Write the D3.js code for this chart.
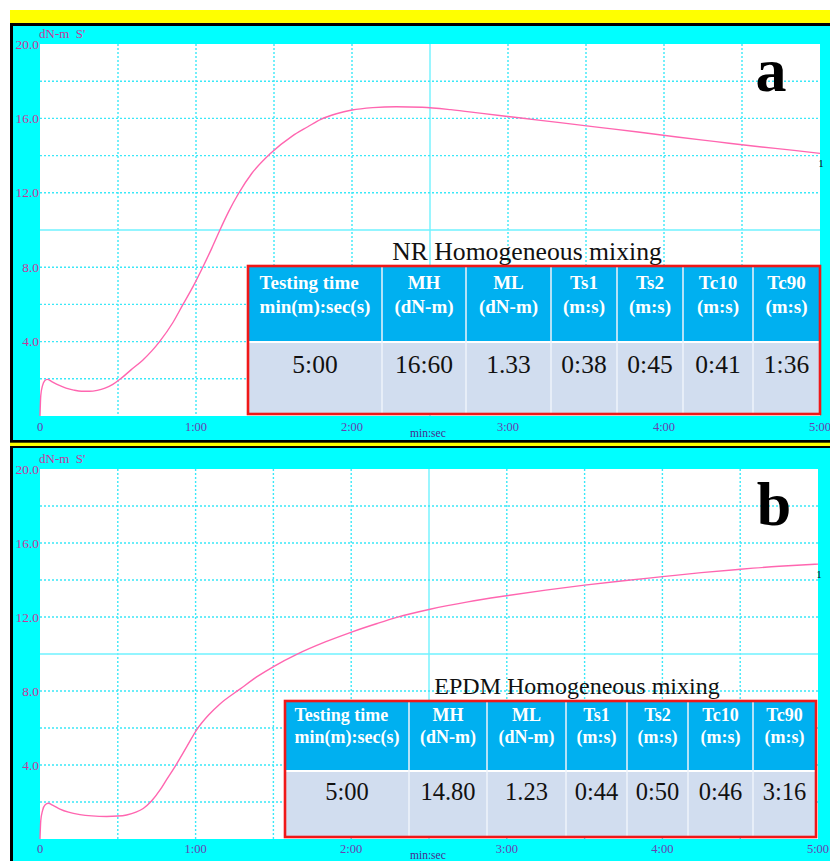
<!DOCTYPE html>
<html><head><meta charset="utf-8">
<script src="https://cdn.jsdelivr.net/npm/d3@7"></script>
<style>html,body{margin:0;padding:0;background:#fff;} svg{display:block;}</style>
</head><body>
<svg id="c" width="830" height="861"></svg>
<script>
// ---------- DATA ----------
const timesA  = [0, 0.3, 1.0, 1.8, 2.8, 4.5, 7, 10, 13, 16, 19, 22, 25, 28, 31, 35, 39.5, 43, 46, 51, 55, 59, 62.6, 66, 69.2, 72.6, 76.3, 81.5, 88.5, 97, 103, 108, 114, 120, 128, 137, 147, 158, 170, 185, 200, 215, 230, 245, 260, 275, 290, 300];
const torqueA = [0, 1.1, 1.65, 1.9, 1.97, 1.85, 1.67, 1.5, 1.39, 1.33, 1.33, 1.38, 1.5, 1.7, 2.0, 2.48, 3.0, 3.5, 4.0, 5.0, 6.0, 7.0, 8.0, 9.0, 10.0, 11.0, 11.95, 13.05, 14.1, 15.05, 15.55, 15.95, 16.25, 16.45, 16.58, 16.63, 16.6, 16.47, 16.27, 16.02, 15.77, 15.52, 15.27, 15.0, 14.75, 14.5, 14.28, 14.12];
const timesB  = [0, 0.3, 1.0, 2.0, 3.2, 5, 7.7, 11, 15.4, 20, 25.7, 30, 33.4, 37, 39.8, 43, 46.3, 49, 52, 56.6, 60.4, 65, 69.4, 77.1, 84, 90.4, 99, 110, 120.4, 130, 137.6, 150.4, 165, 180, 195, 210, 225, 240, 255, 270, 285, 300];
const torqueB = [0, 1.0, 1.55, 1.85, 1.93, 1.82, 1.62, 1.45, 1.32, 1.25, 1.22, 1.24, 1.3, 1.45, 1.65, 2.05, 2.65, 3.25, 3.9, 4.99, 5.9, 6.7, 7.3, 8.1, 8.8, 9.35, 9.98, 10.65, 11.2, 11.65, 11.98, 12.42, 12.82, 13.15, 13.45, 13.72, 13.96, 14.18, 14.4, 14.58, 14.74, 14.86];

const xTickValues = [0, 60, 120, 180, 240, 300];
const xTickLabels = ["0", "1:00", "2:00", "3:00", "4:00", "5:00"];
const xGridValues = [30, 60, 90, 120, 150, 180, 210, 240, 270];
const yTickValues = [4, 8, 12, 16, 20];
const yTickLabels = ["4.0", "8.0", "12.0", "16.0", "20.0"];
const yGridValues = [2, 4, 6, 8, 10, 12, 14, 16, 18];

const tableHeader1 = ["Testing time", "MH", "ML", "Ts1", "Ts2", "Tc10", "Tc90"];
const tableHeader2 = ["min(m):sec(s)", "(dN-m)", "(dN-m)", "(m:s)", "(m:s)", "(m:s)", "(m:s)"];
const tableValuesA = ["5:00", "16:60", "1.33", "0:38", "0:45", "0:41", "1:36"];
const tableValuesB = ["5:00", "14.80", "1.23", "0:44", "0:50", "0:46", "3:16"];
const tableTitles  = ["NR Homogeneous mixing", "EPDM Homogeneous mixing"];
const panelLetters = ["a", "b"];
const yUnitLabel = "dN-m  S'";
const xUnitLabel = "min:sec";
const curveEndLabel = "1";

// ---------- LAYOUT ----------
const SERIF = '"Liberation Serif","Times New Roman",serif';
const svg = d3.select('#c');

svg.append('rect').attr('x',10).attr('y',10).attr('width',820).attr('height',13).attr('fill','#ffff00');
svg.append('rect').attr('x',10).attr('y',23).attr('width',820).attr('height',838).attr('fill','#000');
svg.append('rect').attr('x',13).attr('y',26).attr('width',817).attr('height',414).attr('fill','#00ffff');
svg.append('rect').attr('x',10).attr('y',442.7).attr('width',820).attr('height',3.3).attr('fill','#ffff00');
svg.append('rect').attr('x',13).attr('y',448).attr('width',817).attr('height',413).attr('fill','#00ffff');

const panels = [
  { times: timesA, torque: torqueA, values: tableValuesA, title: tableTitles[0], letter: panelLetters[0],
    plot: {x0:40, x1:820, y0:44, y1:416}, xLabY:431, unitX:410, unitY:437, yUnitY:38,
    letterPos:[771, 91],
    table: {top:266, hb:341, bt:343, bottom:414, edges:[248,382,466,551,617,683,753,820],
            titleX:527, titleY:260, titleFs:25.7, hfs:19, l1:23, l2:46.5, vfs:25.5, vdy:29.5} },
  { times: timesB, torque: torqueB, values: tableValuesB, title: tableTitles[1], letter: panelLetters[1],
    plot: {x0:40, x1:818, y0:469, y1:839}, xLabY:853, unitX:410, unitY:858.5, yUnitY:463,
    letterPos:[774, 525],
    table: {top:701, hb:770, bt:772, bottom:837, edges:[285,409,487,566,627,688,753,816],
            titleX:577, titleY:694, titleFs:24, hfs:18, l1:19.5, l2:42, vfs:24.5, vdy:28} }
];

panels.forEach(p => {
  const P = p.plot;
  const x = d3.scaleLinear().domain([0, 300]).range([P.x0, P.x1]);
  const y = d3.scaleLinear().domain([0, 20]).range([P.y1, P.y0]);
  const g = svg.append('g');

  g.append('rect').attr('x',P.x0).attr('y',P.y0).attr('width',P.x1-P.x0).attr('height',P.y1-P.y0).attr('fill','#fff');

  // grid
  g.selectAll('.vg').data(xGridValues).enter().append('line')
    .attr('x1',d=>x(d)).attr('x2',d=>x(d)).attr('y1',P.y0).attr('y2',P.y1)
    .attr('stroke', d=> d===150 ? '#6ff2ff' : '#3ae8f8')
    .attr('stroke-width',1.4)
    .attr('stroke-dasharray', d=> d===150 ? null : '2,2');
  g.selectAll('.hg').data(yGridValues).enter().append('line')
    .attr('y1',d=>y(d)).attr('y2',d=>y(d)).attr('x1',P.x0).attr('x2',P.x1)
    .attr('stroke', d=> d===10 ? '#6ff2ff' : '#3ae8f8')
    .attr('stroke-width',1.4)
    .attr('stroke-dasharray', d=> d===10 ? null : '2,2');

  // y ticks
  g.selectAll('.yl').data(yTickValues).enter().append('text')
    .attr('x', P.x0 - 1).attr('y', d=>y(d)+4.5)
    .attr('text-anchor','end').attr('font-family',SERIF).attr('font-size',13.5)
    .attr('fill','#c8379b').text((d,i)=>yTickLabels[i]);
  g.append('text').attr('x',P.x0-1).attr('y',p.yUnitY).attr('font-family',SERIF).attr('font-size',13)
    .attr('fill','#c8379b').style('white-space','pre').text(yUnitLabel);

  // x ticks
  g.selectAll('.xl').data(xTickValues).enter().append('text')
    .attr('x', d=>x(d)).attr('y', p.xLabY)
    .attr('text-anchor','middle').attr('font-family',SERIF).attr('font-size',12.5)
    .attr('fill','#6a3db0').text((d,i)=>xTickLabels[i]);
  g.append('text').attr('x',p.unitX).attr('y',p.unitY).attr('font-family',SERIF).attr('font-size',11.5)
    .attr('fill','#4a2a8e').text(xUnitLabel);

  // curve
  const pts = p.times.map((t,i)=>[t, p.torque[i]]);
  g.append('path').datum(pts)
    .attr('d', d3.line().x(d=>x(d[0])).y(d=>y(d[1])).curve(d3.curveMonotoneX))
    .attr('fill','none').attr('stroke','#ff66b0').attr('stroke-width',1.4);
  const last = pts[pts.length-1];
  g.append('text').attr('x', x(last[0])+1).attr('y', y(last[1])+13.5)
    .attr('text-anchor','middle').attr('font-family',SERIF).attr('font-size',11).attr('fill','#111')
    .text(curveEndLabel);

  // letter
  g.append('text').attr('x',p.letterPos[0]).attr('y',p.letterPos[1]).attr('text-anchor','middle')
    .attr('font-family',SERIF).attr('font-weight','bold').attr('font-size',62).attr('fill','#000').text(p.letter);

  // table
  const T = p.table, E = T.edges;
  const tx0 = E[0], tx1 = E[E.length-1];
  g.append('text').attr('x',T.titleX).attr('y',T.titleY).attr('text-anchor','middle')
    .attr('font-family',SERIF).attr('font-size',T.titleFs).attr('fill','#111').text(p.title);
  g.append('rect').attr('x',tx0).attr('y',T.top).attr('width',tx1-tx0).attr('height',T.bottom-T.top).attr('fill','#fff');
  g.append('rect').attr('x',tx0).attr('y',T.top).attr('width',tx1-tx0).attr('height',T.hb-T.top).attr('fill','#00b0f0');
  g.append('rect').attr('x',tx0).attr('y',T.bt).attr('width',tx1-tx0).attr('height',T.bottom-T.bt).attr('fill','#d1ddef');
  g.selectAll('.cd').data(E.slice(1,-1)).enter().append('line')
    .attr('x1',d=>d).attr('x2',d=>d).attr('y1',T.top).attr('y2',T.bottom)
    .attr('stroke','#eef3fb').attr('stroke-width',1.5);
  const cols = tableHeader1.map((h,i)=>({i, cx:(E[i]+E[i+1])/2}));
  cols.forEach(c => {
    const t2 = g.append('text').attr('x',c.cx).attr('y',T.top+T.l2).attr('text-anchor','middle')
      .attr('font-family',SERIF).attr('font-weight','bold').attr('font-size',T.hfs).attr('fill','#fff')
      .text(tableHeader2[c.i]);
    const t1 = g.append('text').attr('y',T.top+T.l1)
      .attr('font-family',SERIF).attr('font-weight','bold').attr('font-size',T.hfs).attr('fill','#fff')
      .text(tableHeader1[c.i]);
    if (c.i === 0) {
      const w = t2.node().getComputedTextLength();
      t1.attr('x', c.cx - w/2).attr('text-anchor','start');
    } else {
      t1.attr('x', c.cx).attr('text-anchor','middle');
    }
    g.append('text').attr('x',c.cx).attr('y',T.bt+T.vdy).attr('text-anchor','middle')
      .attr('font-family',SERIF).attr('font-size',T.vfs).attr('fill','#111').text(p.values[c.i]);
  });
  g.append('rect').attr('x',tx0).attr('y',T.top).attr('width',tx1-tx0).attr('height',T.bottom-T.top)
    .attr('fill','none').attr('stroke','#f01818').attr('stroke-width',2.6);
});
</script>
</body></html>
